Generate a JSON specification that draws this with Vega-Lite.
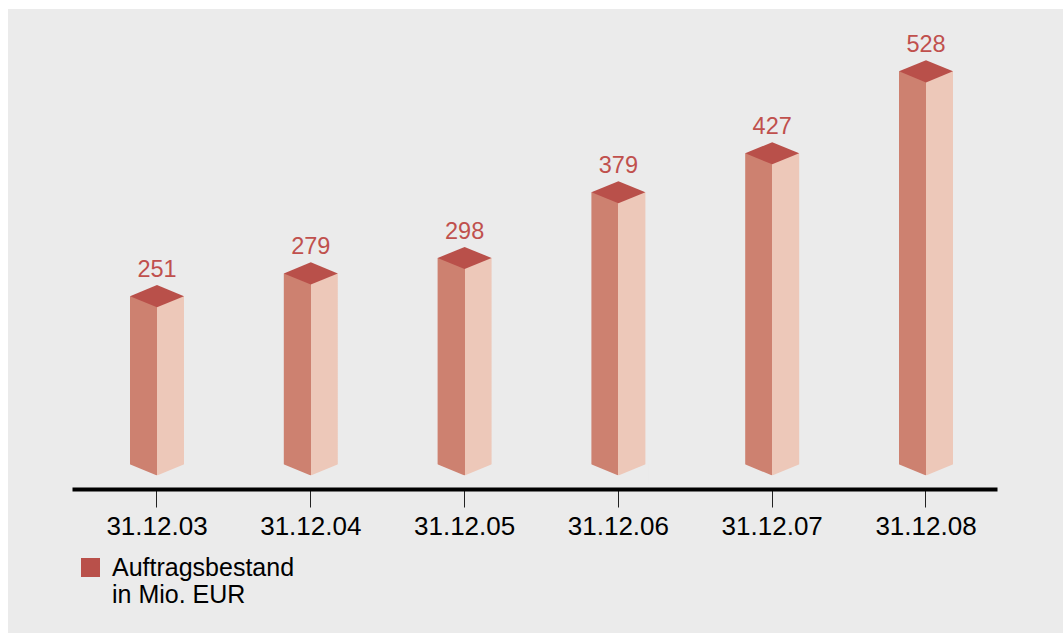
{
  "$schema": "https://vega.github.io/schema/vega-lite/v6.json",
  "width": 1055,
  "height": 624,
  "padding": {"left": 8, "top": 9, "right": 0, "bottom": 0},
  "autosize": {"type": "none"},
  "background": "white",
  "config": {"view": {"fill": "#ebebeb", "stroke": null}, "font": "Liberation Sans"},
  "data": {"values": [
    {"stichtag": "31.12.03", "wert": 251, "reihe": "Auftragsbestand in Mio. EUR"},
    {"stichtag": "31.12.04", "wert": 279, "reihe": "Auftragsbestand in Mio. EUR"},
    {"stichtag": "31.12.05", "wert": 298, "reihe": "Auftragsbestand in Mio. EUR"},
    {"stichtag": "31.12.06", "wert": 379, "reihe": "Auftragsbestand in Mio. EUR"},
    {"stichtag": "31.12.07", "wert": 427, "reihe": "Auftragsbestand in Mio. EUR"},
    {"stichtag": "31.12.08", "wert": 528, "reihe": "Auftragsbestand in Mio. EUR"}
  ]},
  "encoding": {
    "x": {
      "field": "stichtag", "type": "ordinal", "sort": null,
      "scale": {"type": "band", "range": [64, 989], "paddingInner": 0.6489, "paddingOuter": 0.3316, "align": 0.5686, "round": false},
      "axis": {
        "orient": "bottom", "offset": -144, "title": null, "grid": false,
        "domainColor": "black", "domainWidth": 4,
        "ticks": true, "tickSize": 18, "tickWidth": 1, "tickColor": "#222222",
        "labelFontSize": 26, "labelColor": "black", "labelPadding": 6, "labelAngle": 0, "labelFont": "Liberation Sans"
      }
    }
  },
  "layer": [
    {
      "mark": {
        "type": "bar", "stroke": null,
        "fill": {"gradient": "linear", "x1": 0, "x2": 1, "y1": 0, "y2": 0, "stops": [
          {"offset": 0, "color": "#cd8170"}, {"offset": 0.5, "color": "#cd8170"},
          {"offset": 0.5, "color": "#edc8b9"}, {"offset": 1, "color": "#edc8b9"}
        ]}
      },
      "encoding": {
        "y": {"field": "wert", "type": "quantitative", "scale": {"domain": [30, 600], "range": [466.5, 3.9], "zero": false, "nice": false}, "axis": null},
        "y2": {"datum": 30}
      }
    },
    {
      "mark": {"type": "point", "shape": "M-1.1,-0.451L0,0L1.1,-0.451L1.1,0.3L-1.1,0.3Z", "size": 2916, "filled": true, "opacity": 1, "fill": "#ebebeb", "strokeWidth": 0},
      "encoding": {"y": {"datum": 30, "type": "quantitative"}}
    },
    {
      "mark": {"type": "point", "shape": "M-1,0L0,-0.41L1,0L0,0.41Z", "size": 2916, "filled": true, "opacity": 1, "strokeWidth": 0},
      "encoding": {
        "y": {"field": "wert", "type": "quantitative"},
        "color": {
          "field": "reihe", "type": "nominal",
          "scale": {"range": ["#b9504a"]},
          "legend": {
            "orient": "none", "legendX": 70, "legendY": 546, "title": null, "padding": 0,
            "symbolType": "square", "symbolSize": 361, "symbolStrokeWidth": 0, "symbolOpacity": 1,
            "labelFontSize": 25, "labelColor": "black", "labelOffset": 9, "labelLimit": 0, "labelFont": "Liberation Sans",
            "labelExpr": "['Auftragsbestand', 'in Mio. EUR']",
            "encode": {"labels": {"update": {"lineHeight": {"value": 27}}}}
          }
        }
      }
    },
    {
      "mark": {"type": "text", "dy": -19, "baseline": "alphabetic", "fontSize": 23.5, "color": "#c0504d", "font": "Liberation Sans"},
      "encoding": {
        "y": {"field": "wert", "type": "quantitative"},
        "text": {"field": "wert", "type": "quantitative"}
      }
    }
  ]
}
